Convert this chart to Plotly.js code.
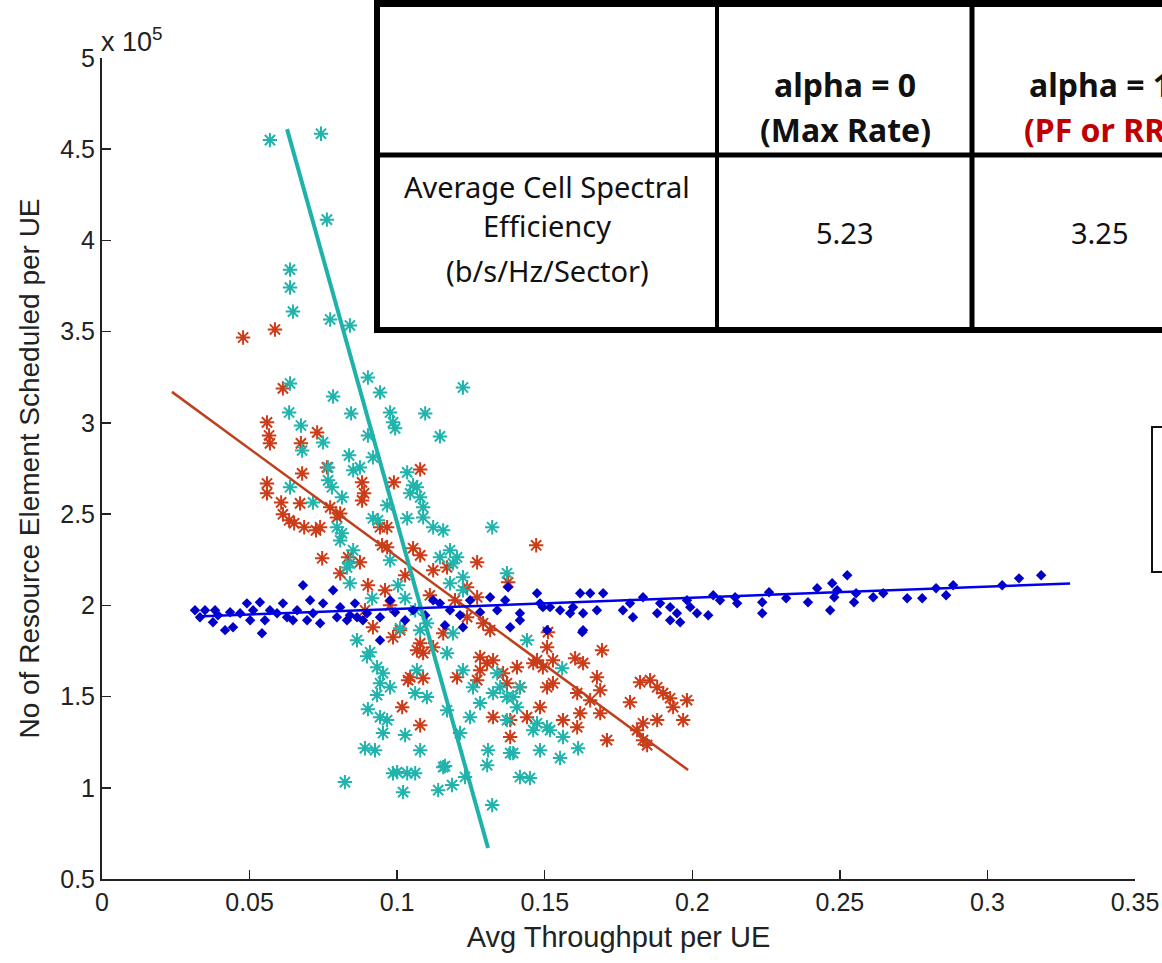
<!DOCTYPE html>
<html><head><meta charset="utf-8">
<script src="https://cdn.plot.ly/plotly-3.0.1.min.js"></script>
<style>html,body{margin:0;padding:0;background:#fff;overflow:hidden}#chart{width:1162px;height:963px}</style>
</head><body><div id="chart"></div>
<script>
// ---------------- data (y values in units of 10^5) ----------------
const blueX = [0.0315,0.0349,0.0376,0.0417,0.0444,0.0491,0.0512,0.0535,0.0542,0.0593,0.0613,0.0627,0.0647,0.0681,0.0695,0.0715,0.0749,0.0783,0.0739,0.0796,0.0830,0.0864,0.0898,0.0942,0.0942,0.1054,0.1122,0.1145,0.1223,0.1247,0.1315,0.1339,0.1383,0.1416,0.1474,0.1494,0.1508,0.1552,0.1586,0.1620,0.1630,0.1654,0.1677,0.1698,0.1765,
  0.0383,0.0468,0.0569,0.0661,0.0807,0.0857,0.0993,0.1027,0.1095,0.1179,0.1281,0.1366,0.0332,0.0393,0.0434,0.0502,0.0552,0.0705,0.0840,0.0884,0.0976,0.1162,0.1213,
  0.1376,0.1484,0.1416,0.1518,0.1596,0.1627,0.1630,0.1789,0.1799,0.1833,0.1891,0.1881,0.1925,0.1948,0.1925,0.1959,0.1982,0.1993,0.2016,0.2054,
  0.2071,0.2094,0.2145,0.2152,0.2237,0.2237,0.2260,0.2318,0.2392,0.2423,0.2467,0.2474,0.2481,0.2491,0.2525,0.2548,0.2555,0.2613,0.2647,0.2728,0.2779,0.2826,0.2860,0.2884,0.3050,0.3107,0.3182];
const blueY = [1.973,1.973,1.907,1.864,1.880,2.011,1.973,2.017,1.847,1.957,2.011,1.935,1.918,2.110,1.918,1.957,2.011,2.083,1.902,1.935,1.918,1.935,1.957,1.935,1.809,1.973,2.028,2.011,1.880,2.028,2.044,1.973,1.880,1.957,2.066,1.990,1.864,1.973,1.957,2.066,1.864,2.066,1.973,2.066,1.973,
  1.973,1.957,1.973,1.973,1.990,2.011,1.962,1.918,1.946,1.973,1.962,2.028,1.935,1.946,1.962,1.918,1.918,2.028,1.946,1.918,2.028,1.891,1.946,
  2.099,2.011,1.918,1.990,1.990,1.853,1.957,2.011,1.935,2.044,2.011,1.957,1.990,1.957,1.918,1.907,2.028,1.990,1.957,1.946,
  2.055,2.028,2.044,2.011,2.017,1.957,2.072,2.039,2.017,2.094,1.973,2.121,2.044,2.083,2.165,2.017,2.066,2.044,2.066,2.039,2.039,2.094,2.055,2.110,2.110,2.148,2.165];

const redX = [0.0478,0.0586,0.0613,0.0559,0.0566,0.0569,0.0729,0.0674,0.0678,0.0559,0.0559,0.0607,0.0671,0.0613,0.0634,0.0651,0.0685,0.0725,0.0739,0.0773,0.0881,0.0888,0.0881,0.0989,0.1078,0.0762,0.0807,0.0796,0.0746,0.0834,
  0.0874,0.0949,0.0966,0.0966,0.0942,0.1054,0.1078,0.1271,0.1027,0.0901,0.0959,0.1169,0.1122,0.0807,0.1237,0.1271,0.1010,0.0986,0.0918,0.1078,0.1122,0.1291,0.1315,0.1237,0.1471,0.1376,0.1511,0.1694,0.1281,0.1305,
  0.1325,0.1281,0.1406,0.1474,0.1494,0.1528,0.1603,0.1630,0.1271,0.1372,0.1416,0.1508,0.1528,0.1677,0.1610,0.1654,0.1688,0.1484,0.1325,0.1383,0.1440,0.1562,0.1620,0.1610,0.1688,0.1711,0.1789,0.1813,0.1833,0.1833,
  0.1847,0.1823,0.1857,0.1881,0.1901,0.1925,0.1935,0.1982,0.1969,0.1881,0.1359,0.1203,0.1078,0.1017,0.1044,0.1067,0.1156,0.1037,0.1088,0.1088,0.1508,0.1461,0.1383,0.0891,0.0976,0.1111,0.1196];
const redY = [3.468,3.512,3.189,3.003,2.931,2.888,2.948,2.888,2.723,2.668,2.614,2.564,2.559,2.499,2.466,2.450,2.428,2.411,2.428,2.537,2.674,2.614,2.575,2.674,2.745,2.756,2.504,2.482,2.258,2.263,
  2.236,2.329,2.318,2.428,2.428,2.313,2.274,2.236,2.165,2.110,2.083,2.208,2.192,2.176,2.099,2.044,1.864,1.825,1.880,1.792,1.770,1.902,1.864,1.935,2.329,2.126,1.853,1.754,1.716,1.683,
  1.699,1.644,1.661,1.699,1.661,1.699,1.710,1.683,1.590,1.573,1.551,1.551,1.573,1.606,1.519,1.480,1.535,1.442,1.387,1.371,1.387,1.371,1.409,1.332,1.409,1.261,1.469,1.316,1.354,1.261,
  1.234,1.579,1.590,1.551,1.519,1.491,1.442,1.480,1.371,1.371,1.628,1.606,1.343,1.442,1.606,1.754,1.847,1.590,1.601,1.738,1.770,1.683,1.278,1.973,2.000,2.055,2.028];

const cyanX = [0.0569,0.0742,0.0762,0.0637,0.0637,0.0647,0.0773,0.0840,0.0637,0.0783,0.0901,0.0942,0.1223,0.0634,0.0674,0.0678,0.0749,0.0844,0.0976,0.0986,0.0993,0.1095,0.1145,0.0901,0.0837,0.0918,0.0766,0.0766,0.0779,0.0851,
  0.0874,0.0637,0.0715,0.0813,0.1034,0.1067,0.1044,0.1078,0.1088,0.1088,0.1122,0.1156,0.1322,0.1034,0.0966,0.0935,0.0796,0.0813,0.0851,0.0840,0.1179,0.1203,0.1223,0.1145,0.1179,0.1223,0.0830,0.0840,0.0918,0.0807,
  0.1372,0.0864,0.0898,0.0932,0.0952,0.0942,0.0932,0.0976,0.0901,0.0942,0.0966,0.0952,0.1027,0.0891,0.0925,0.1078,0.0823,0.1000,0.1034,0.1061,0.1020,0.1162,0.1139,0.1186,0.1230,0.1322,0.1308,0.1305,0.1393,0.1416,
  0.1450,0.1484,0.1461,0.1508,0.1067,0.1061,0.1101,0.1169,0.1213,0.1223,0.1257,0.1281,0.1325,0.1339,0.1372,0.1406,0.1372,0.1169,0.1189,0.1101,0.1440,0.1559,0.1474,0.1518,0.1562,0.1613,0.1552,0.1349,0.1393,0.1416,
  0.1383,0.1247,0.1156,0.0986,0.1010,0.1078,0.0908,0.1054,0.1189,0.0976,0.1003,0.1027,0.1061,0.0915];
const cyanY = [4.550,4.585,4.114,3.840,3.742,3.610,3.567,3.534,3.216,3.145,3.249,3.167,3.194,3.057,2.986,2.849,2.893,3.052,3.057,3.003,2.970,3.052,2.926,2.931,2.822,2.811,2.756,2.685,2.647,2.740,
  2.756,2.647,2.564,2.592,2.729,2.647,2.614,2.592,2.537,2.482,2.428,2.411,2.428,2.477,2.548,2.466,2.428,2.395,2.302,2.230,2.302,2.263,2.154,2.263,2.121,2.083,2.208,2.121,2.477,2.356,
  2.176,1.809,1.721,1.661,1.628,1.573,1.508,1.551,1.431,1.387,1.371,1.300,1.289,1.217,1.206,1.206,1.031,1.086,1.080,1.080,0.976,1.119,0.987,1.015,1.059,0.905,1.206,1.124,1.190,1.059,
  1.053,1.206,1.316,1.332,1.644,1.519,1.497,1.425,1.300,1.644,1.551,1.464,1.519,1.628,1.497,1.442,1.371,1.738,1.847,1.902,1.809,1.655,1.354,1.316,1.278,1.217,1.163,1.551,1.497,1.551,
  1.190,1.387,1.113,1.080,1.874,1.864,1.743,2.658,2.230,2.247,2.110,2.039,1.973,2.039];

// fitted lines (end points)
const blueFitX = [0.0342, 0.3280], blueFitY = [1.94, 2.12];
const redFitX  = [0.0237, 0.1986], redFitY  = [3.17, 1.097];
const cyanFitX = [0.0627, 0.1308], cyanFitY = [4.61, 0.67];

const xTickVals = [0,0.05,0.1,0.15,0.2,0.25,0.3,0.35];
const xTickText = ['0','0.05','0.1','0.15','0.2','0.25','0.3','0.35'];
const yTickVals = [0.5,1,1.5,2,2.5,3,3.5,4,4.5,5];
const yTickText = ['0.5','1','1.5','2','2.5','3','3.5','4','4.5','5'];

const tableHeader = ['alpha = 0', '(Max Rate)', 'alpha = 1', '(PF or RR)'];
const tableRowLabel = ['Average Cell Spectral', 'Efficiency', '(b/s/Hz/Sector)'];
const tableValues = ['5.23', '3.25'];

// ---------------- layout helpers (pixel -> paper) ----------------
const W = 1162, H = 963, ML = 102, MR = 27, MT = 58, MB = 84;
const px = x => (x - ML) / (W - ML - MR);
const py = y => (H - MB - y) / (H - MT - MB);

const BLUE = 'rgb(0,0,200)', RED = 'rgb(205,60,25)', CYAN = 'rgb(32,180,172)';
const FONT = 'Liberation Sans, Arial, sans-serif';
const TFONT = 'Noto Sans, DejaVu Sans, sans-serif';

const traces = [
  {x: redX, y: redY, mode: 'markers', type: 'scatter', marker: {symbol: 'asterisk-open', size: 12, color: RED, line: {color: RED, width: 2}}},
  {x: cyanX, y: cyanY, mode: 'markers', type: 'scatter', marker: {symbol: 'asterisk-open', size: 12, color: CYAN, line: {color: CYAN, width: 2}}},
  {x: blueX, y: blueY, mode: 'markers', type: 'scatter', marker: {symbol: 'diamond', size: 8, color: BLUE, line: {width: 0}}},
  {x: redFitX, y: redFitY, mode: 'lines', type: 'scatter', line: {color: 'rgb(190,65,30)', width: 2.5}},
  {x: cyanFitX, y: cyanFitY, mode: 'lines', type: 'scatter', line: {color: 'rgb(30,178,170)', width: 4}},
  {x: blueFitX, y: blueFitY, mode: 'lines', type: 'scatter', line: {color: 'rgb(0,0,235)', width: 2.5}}
];

const shapes = [];
// table background
shapes.push({type: 'rect', xref: 'paper', yref: 'paper', x0: px(374), x1: px(1220), y0: py(333), y1: py(-5), fillcolor: '#fff', line: {width: 0}, layer: 'above'});
const ln = (x0, y0, x1, y1, w) => shapes.push({type: 'line', xref: 'paper', yref: 'paper', x0: px(x0), x1: px(x1), y0: py(y0), y1: py(y1), line: {color: '#000', width: w}, layer: 'above'});
ln(377, -5, 377, 333, 6);   // left border
ln(374, 3.5, 1220, 3.5, 7); // top border
ln(374, 330, 1220, 330, 6); // bottom border
ln(374, 155, 1220, 155, 5); // row divider
ln(717, 0, 717, 333, 4);    // column divider 1
ln(972, 0, 972, 333, 5);    // column divider 2
// legend box (cut by the right edge)
shapes.push({type: 'rect', xref: 'paper', yref: 'paper', x0: px(1152), x1: px(1220), y0: py(572), y1: py(427), fillcolor: '#fff', line: {color: '#111', width: 2}, layer: 'above'});

const ann = (x, y, text, size, opts = {}) => Object.assign({xref: 'paper', yref: 'paper', x: px(x), y: py(y), text: text, showarrow: false, xanchor: 'center', yanchor: 'middle', font: {family: TFONT, size: size, color: '#111'}}, opts);
const annotations = [
  ann(845, 84, '<b>' + tableHeader[0] + '</b>', 32),
  ann(845, 130, '<b>' + tableHeader[1] + '</b>', 32),
  ann(1100, 84, '<b>' + tableHeader[2] + '</b>', 32),
  ann(1100, 130, '<b>' + tableHeader[3] + '</b>', 32, {font: {family: TFONT, size: 32, color: 'rgb(192,0,0)'}}),
  ann(547, 186, tableRowLabel[0], 29),
  ann(547, 226, tableRowLabel[1], 29),
  ann(547, 270, tableRowLabel[2], 29),
  ann(845, 232, tableValues[0], 29),
  ann(1100, 232, tableValues[1], 29),
  ann(99, 40, 'x 10<sup>5</sup>', 27, {xanchor: 'left', font: {family: FONT, size: 27, color: '#222'}})
];

const layout = {
  width: W, height: H,
  margin: {l: ML, r: MR, t: MT, b: MB, pad: 0},
  paper_bgcolor: '#fff', plot_bgcolor: '#fff',
  showlegend: false,
  font: {family: FONT, size: 24, color: '#222'},
  xaxis: {range: [0, 0.35], tickvals: xTickVals, ticktext: xTickText, ticks: 'inside', ticklen: 9, tickwidth: 1.5, tickcolor: '#222',
    showline: true, linecolor: '#222', linewidth: 2, showgrid: false, zeroline: false,
    tickfont: {family: FONT, size: 25, color: '#222'},
    title: {text: 'Avg Throughput per UE', font: {family: FONT, size: 29, color: '#222'}, standoff: 12}, automargin: false},
  yaxis: {range: [0.5, 5], tickvals: yTickVals, ticktext: yTickText, ticks: 'inside', ticklen: 9, tickwidth: 1.5, tickcolor: '#222',
    showline: true, linecolor: '#222', linewidth: 2, showgrid: false, zeroline: false,
    tickfont: {family: FONT, size: 25, color: '#222'},
    title: {text: 'No of Resource Element Scheduled per UE', font: {family: FONT, size: 28, color: '#222'}, standoff: 12}, automargin: false},
  shapes: shapes,
  annotations: annotations
};

Plotly.newPlot('chart', traces, layout, {displayModeBar: false, staticPlot: true});
</script></body></html>
